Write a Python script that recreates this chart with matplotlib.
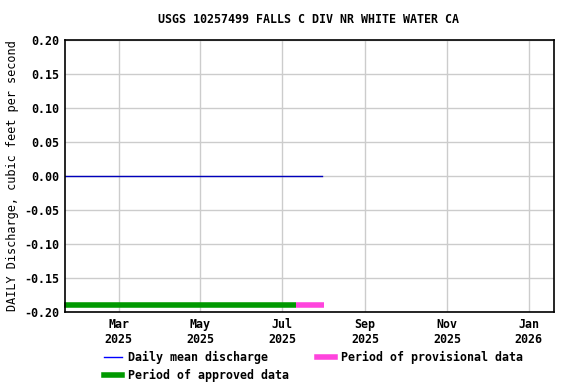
import numpy as np
import pandas as pd
import matplotlib
matplotlib.use('Agg')
import matplotlib.pyplot as plt
from matplotlib.lines import Line2D

plt.rcParams['font.family'] = 'DejaVu Sans Mono'
plt.rcParams['font.weight'] = 'bold'

title = 'USGS 10257499 FALLS C DIV NR WHITE WATER CA'
ylabel = 'DAILY Discharge, cubic feet per second'

# daily mean discharge (all zero)
flow_start = '2025-01-20'
flow_end = '2025-07-31'
flow_value = 0.0

# approval periods
approved = ['2025-01-19', '2025-07-11']
provisional = ['2025-07-11', '2025-08-01']
bar_level = -0.19

x_range = ['2025-01-20', '2026-01-20']
tick_dates = ['2025-03-01', '2025-05-01', '2025-07-01', '2025-09-01', '2025-11-01', '2026-01-01']
tick_labels = ['Mar\n2025', 'May\n2025', 'Jul\n2025', 'Sep\n2025', 'Nov\n2025', 'Jan\n2026']
yticks = [-0.20, -0.15, -0.10, -0.05, 0.00, 0.05, 0.10, 0.15, 0.20]

days = pd.date_range(flow_start, flow_end, freq='D')
flow = np.full(len(days), flow_value)

fig = plt.figure(figsize=(5.76, 3.84), dpi=100)
ax = fig.add_axes([0.113, 0.1875, 0.849, 0.708])

ax.plot(days, flow, color='#0000bb', lw=1)
ax.plot(pd.to_datetime(approved), [bar_level] * 2, color='#009900', lw=4, solid_capstyle='butt', clip_on=False)
ax.plot(pd.to_datetime(provisional), [bar_level] * 2, color='#ff44dd', lw=4, solid_capstyle='butt')

ax.set_xlim(pd.to_datetime(x_range[0]), pd.to_datetime(x_range[1]))
ax.set_ylim(-0.20, 0.20)
ax.set_xticks(pd.to_datetime(tick_dates))
ax.set_xticklabels(tick_labels)
ax.set_yticks(yticks)
ax.set_yticklabels(['%.2f' % v for v in yticks])
ax.tick_params(length=0, labelsize=8.4, pad=4)
ax.grid(True, color='#cccccc', lw=1)
ax.set_axisbelow(True)
for s in ax.spines.values():
    s.set_linewidth(1.2)

ax.set_ylabel(ylabel, fontsize=8.6, labelpad=4)
fig.text(0.535, 0.95, title, ha='center', va='center', fontsize=8.4)

handles = [Line2D([], [], color='#0000ff', lw=1),
           Line2D([], [], color='#009900', lw=4),
           Line2D([], [], color='#ff44dd', lw=4)]
labels = ['Daily mean discharge', 'Period of approved data', 'Period of provisional data']
fig.legend(handles, labels, ncol=2, loc='lower left', bbox_to_anchor=(0.172, -0.006),
           frameon=False, fontsize=8.4, handlelength=1.55, handletextpad=0.5,
           columnspacing=2.4, labelspacing=0.4, borderaxespad=0)

fig.savefig('out.png', dpi=100)
